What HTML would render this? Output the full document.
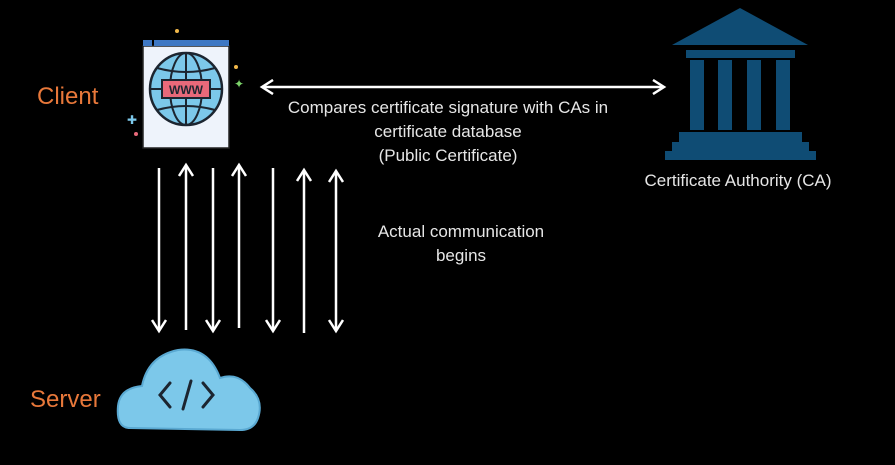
<!DOCTYPE html>
<html><head><style>
body{margin:0;background:#000;width:895px;height:465px;overflow:hidden;font-family:"Liberation Sans",sans-serif}
.t{position:absolute;color:#e6e6e6;font-size:17px;text-align:center;white-space:nowrap}
.o{position:absolute;color:#e8783a;font-size:24px}
</style></head><body>
<svg width="895" height="465" style="position:absolute;left:0;top:0">
<defs>
<marker id="c" markerWidth="16" markerHeight="16" refX="13" refY="8" orient="auto" markerUnits="userSpaceOnUse"><path d="M2,1 L13,8 L2,15" fill="none" stroke="#fff" stroke-width="2.5"/></marker>
<marker id="d" markerWidth="16" markerHeight="16" refX="3" refY="8" orient="auto" markerUnits="userSpaceOnUse"><path d="M14,1 L3,8 L14,15" fill="none" stroke="#fff" stroke-width="2.5"/></marker>
</defs>
<line x1="262" y1="87" x2="664" y2="87" stroke="#fff" stroke-width="2.5" marker-start="url(#d)" marker-end="url(#c)"/>
<g stroke="#fff" stroke-width="2.5">
<line x1="159" y1="168" x2="159" y2="331" marker-end="url(#c)"/>
<line x1="186" y1="330" x2="186" y2="165" marker-end="url(#c)"/>
<line x1="213" y1="168" x2="213" y2="331" marker-end="url(#c)"/>
<line x1="239" y1="328" x2="239" y2="165" marker-end="url(#c)"/>
<line x1="273" y1="168" x2="273" y2="331" marker-end="url(#c)"/>
<line x1="304" y1="333" x2="304" y2="170" marker-end="url(#c)"/>
<line x1="336" y1="171" x2="336" y2="331" marker-start="url(#d)" marker-end="url(#c)"/>
</g>
<rect x="143" y="46" width="86" height="102" fill="#eef3fb" stroke="#222" stroke-width="1.5"/>
<rect x="143" y="40" width="9" height="6" fill="#3e78c4"/>
<rect x="154" y="40" width="75" height="6" fill="#3e78c4"/>
<circle cx="186" cy="89" r="36" fill="#7cc8ea" stroke="#1c2530" stroke-width="2.5"/>
<ellipse cx="186" cy="89" rx="16" ry="36" fill="none" stroke="#1c2530" stroke-width="2"/>
<line x1="186" y1="53" x2="186" y2="125" stroke="#1c2530" stroke-width="2"/>
<line x1="150" y1="89" x2="222" y2="89" stroke="#1c2530" stroke-width="2"/>
<path d="M157,68 Q186,76 215,68 M157,110 Q186,102 215,110" fill="none" stroke="#1c2530" stroke-width="2"/>
<rect x="162" y="80" width="48" height="18" fill="#e8697a" stroke="#1c2530" stroke-width="2"/>
<text x="186" y="94" font-size="12" font-weight="bold" text-anchor="middle" fill="#1c2530" font-family="Liberation Sans">WWW</text>
<circle cx="177" cy="31" r="2" fill="#f1b84a"/><circle cx="236" cy="67" r="2" fill="#f1b84a"/>
<text x="239" y="88" font-size="12" fill="#7cd36a" text-anchor="middle">✦</text>
<text x="132" y="124" font-size="12" fill="#7cc8ea" text-anchor="middle">✚</text>
<circle cx="136" cy="134" r="2" fill="#e8697a"/>
<path d="M130,428 Q116,428 118,406 Q120,388 142,386 Q148,356 178,350 Q208,346 220,378 Q238,372 250,388 Q264,400 258,418 Q254,430 240,430 Z" fill="#7cc8ea" stroke="#5aa9d2" stroke-width="2"/>
<path d="M170,383 L160,395 L170,407 M203,383 L213,395 L203,407 M191,381 L183,409" fill="none" stroke="#1c2530" stroke-width="3" stroke-linecap="round"/>
<g fill="#0f4c74">
<polygon points="740,8 672,45 808,45"/>
<rect x="686" y="50" width="109" height="8"/>
<rect x="690" y="60" width="14" height="70"/><rect x="718" y="60" width="14" height="70"/>
<rect x="747" y="60" width="14" height="70"/><rect x="776" y="60" width="14" height="70"/>
<rect x="679" y="132" width="123" height="10"/>
<rect x="672" y="142" width="137" height="9"/>
<rect x="665" y="151" width="151" height="9"/>
</g>
</svg>
<div class="o" style="left:37px;top:83px">Client</div>
<div class="o" style="left:30px;top:386px">Server</div>
<div class="t" style="left:248px;width:400px;top:96px;line-height:24px">Compares certificate signature with CAs in<br>certificate database<br>(Public Certificate)</div>
<div class="t" style="left:610px;width:256px;top:171px">Certificate Authority (CA)</div>
<div class="t" style="left:361px;width:200px;top:220px;line-height:24px">Actual communication<br>begins</div>
</body></html>
